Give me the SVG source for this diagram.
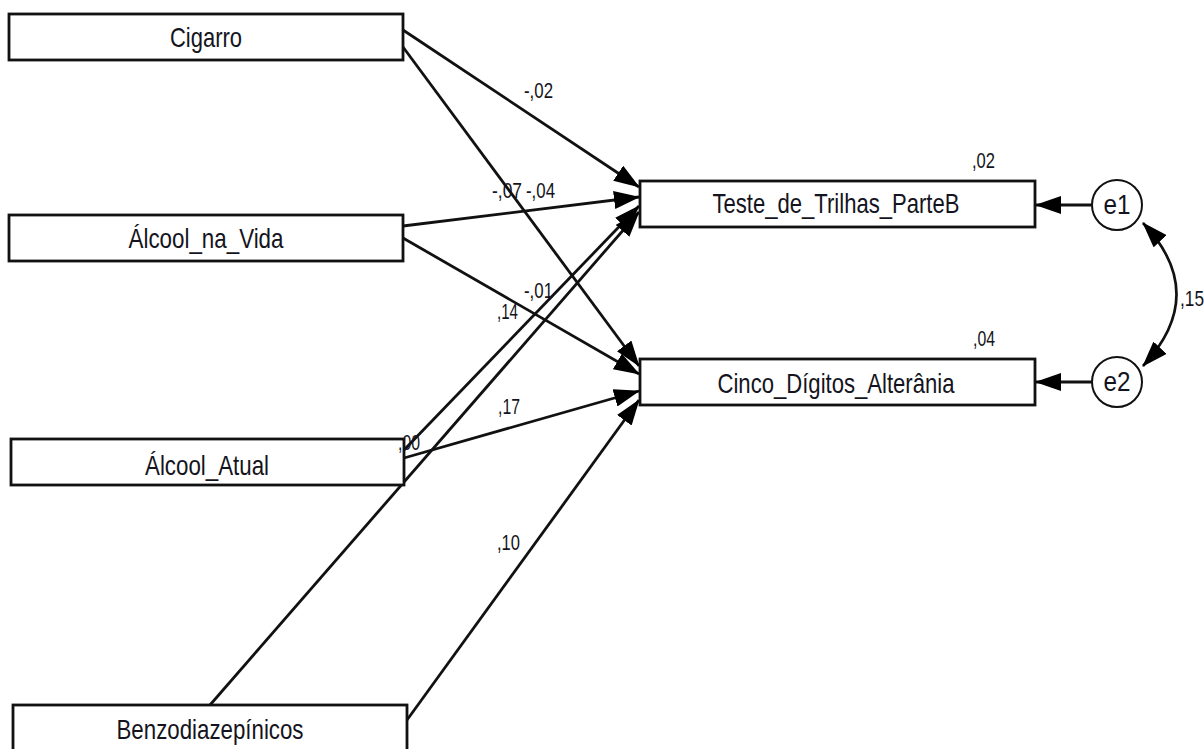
<svg xmlns="http://www.w3.org/2000/svg" width="1204" height="749" viewBox="0 0 1204 749">
  <style>
    .box { fill: #ffffff; stroke: #111111; stroke-width: 2.8; }
    .err { fill: #ffffff; stroke: #111111; stroke-width: 2; }
    .lbl { font-family: "Liberation Sans Narrow", "Liberation Sans", Arial, sans-serif; font-size: 28px; fill: #141420; text-anchor: middle; }
    .num { font-family: "Liberation Sans Narrow", "Liberation Sans", Arial, sans-serif; font-size: 22px; fill: #141420; }
    .path { fill: none; stroke: #111111; stroke-width: 2.8; marker-end: url(#head); }
    .cov { fill: none; stroke: #111111; stroke-width: 2.6; marker-start: url(#head); marker-end: url(#head); }
  </style>
  <defs>
    <marker id="head" markerUnits="userSpaceOnUse" markerWidth="26" markerHeight="18" refX="25" refY="9" orient="auto-start-reverse">
      <path d="M0,0 L26,9 L0,18 z" fill="#000000"/>
    </marker>
  </defs>

  <rect width="1204" height="749" fill="#ffffff"/>

  <!-- regression paths, covariance and error terms -->
  <g id="connectors">
    <line class="path" x1="403" y1="30" x2="639" y2="187"/>
    <line class="path" x1="403" y1="47" x2="639" y2="366"/>
    <line class="path" x1="403" y1="226" x2="639" y2="197"/>
    <line class="path" x1="403" y1="238" x2="639" y2="374"/>
    <line class="path" x1="404" y1="450" x2="639" y2="206"/>
    <line class="path" x1="404" y1="458" x2="639" y2="391"/>
    <line class="path" x1="210" y1="705" x2="639" y2="212"/>
    <line class="path" x1="407" y1="720" x2="639" y2="400"/>
    <line class="path" x1="1092" y1="205" x2="1036" y2="205"/>
    <line class="path" x1="1092" y1="382" x2="1036" y2="382"/>
    <path class="cov" d="M1143,223 Q1210,294 1143,366"/>
  </g>

  <g id="cigarro">
    <rect class="box" x="9" y="14" width="394" height="46"/>
    <text class="lbl" x="206" y="47" textLength="72" lengthAdjust="spacingAndGlyphs">Cigarro</text>
  </g>
  <g id="alcool_na_vida">
    <rect class="box" x="9" y="215" width="394" height="46"/>
    <text class="lbl" x="206" y="248" textLength="155" lengthAdjust="spacingAndGlyphs">Álcool_na_Vida</text>
  </g>
  <g id="alcool_atual">
    <rect class="box" x="11" y="439" width="393" height="46"/>
    <text class="lbl" x="207" y="475" textLength="124" lengthAdjust="spacingAndGlyphs">Álcool_Atual</text>
  </g>
  <g id="benzodiazepinicos">
    <rect class="box" x="13" y="705" width="394" height="60"/>
    <text class="lbl" x="210" y="739" textLength="187" lengthAdjust="spacingAndGlyphs">Benzodiazepínicos</text>
  </g>
  <g id="teste_trilhas">
    <rect class="box" x="640" y="181" width="395" height="46"/>
    <text class="lbl" x="836" y="213" textLength="247" lengthAdjust="spacingAndGlyphs">Teste_de_Trilhas_ParteB</text>
  </g>
  <g id="cinco_digitos">
    <rect class="box" x="640" y="359" width="395" height="46"/>
    <text class="lbl" x="836" y="393" textLength="237" lengthAdjust="spacingAndGlyphs">Cinco_Dígitos_Alterânia</text>
  </g>
  <g id="e1">
    <circle class="err" cx="1117" cy="205" r="25"/>
    <text class="lbl" x="1117" y="214" textLength="27" lengthAdjust="spacingAndGlyphs">e1</text>
  </g>
  <g id="e2">
    <circle class="err" cx="1117" cy="382" r="25"/>
    <text class="lbl" x="1117" y="391" textLength="27" lengthAdjust="spacingAndGlyphs">e2</text>
  </g>

  <!-- path coefficients, drawn last so they sit over lines and outlines -->
  <g id="coefficients">
    <text class="num" x="524" y="98" textLength="29" lengthAdjust="spacingAndGlyphs">-,02</text>
    <text class="num" x="492" y="198" textLength="30" lengthAdjust="spacingAndGlyphs">-,07</text>
    <text class="num" x="526" y="198" textLength="29" lengthAdjust="spacingAndGlyphs">-,04</text>
    <text class="num" x="524" y="298" textLength="29" lengthAdjust="spacingAndGlyphs">-,01</text>
    <text class="num" x="497" y="319" textLength="21" lengthAdjust="spacingAndGlyphs">,14</text>
    <text class="num" x="498" y="414" textLength="22" lengthAdjust="spacingAndGlyphs">,17</text>
    <text class="num" x="398" y="450" textLength="22" lengthAdjust="spacingAndGlyphs">,00</text>
    <text class="num" x="497" y="550" textLength="23" lengthAdjust="spacingAndGlyphs">,10</text>
    <text class="num" x="972" y="168" textLength="23" lengthAdjust="spacingAndGlyphs">,02</text>
    <text class="num" x="973" y="346" textLength="22" lengthAdjust="spacingAndGlyphs">,04</text>
    <text class="num" x="1180" y="306" textLength="24" lengthAdjust="spacingAndGlyphs">,15</text>
  </g>
</svg>
